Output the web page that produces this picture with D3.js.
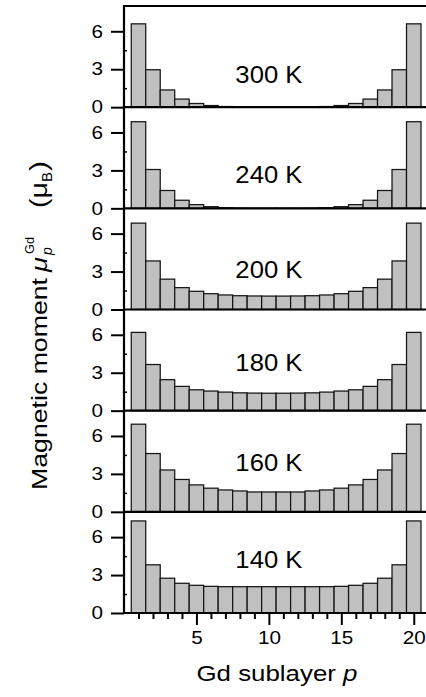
<!DOCTYPE html>
<html>
<head>
<meta charset="utf-8">
<script src="https://cdn.jsdelivr.net/npm/d3@7"></script>
<style>
  body { margin: 0; background: #fff; }
  svg { display: block; font-family: "Liberation Sans", Arial, sans-serif; }
  .tick text { font-size: 18px; font-family: "Liberation Sans", Arial, sans-serif; }
</style>
</head>
<body>
<div id="app"></div>
<script>
// sublayer index p
const sublayers = [1, 2, 3, 4, 5, 6, 7, 8, 9, 10, 11, 12, 13, 14, 15, 16, 17, 18, 19, 20]
const temps = ['300 K', '240 K', '200 K', '180 K', '160 K', '140 K']

// moment per sublayer (muB)
const m300 = [6.59, 2.96, 1.36, 0.64, 0.29, 0.13, 0.05, 0.02, 0.01, 0.01, 0.01, 0.01, 0.02, 0.05, 0.13, 0.29, 0.64, 1.36, 2.96, 6.59]
const m240 = [6.85, 3.07, 1.41, 0.64, 0.29, 0.13, 0.05, 0.02, 0.01, 0.01, 0.01, 0.01, 0.02, 0.05, 0.13, 0.29, 0.64, 1.41, 3.07, 6.85]
const m200 = [6.83, 3.84, 2.40, 1.73, 1.44, 1.25, 1.15, 1.09, 1.07, 1.06, 1.06, 1.07, 1.09, 1.15, 1.25, 1.44, 1.73, 2.40, 3.84, 6.83]
const m180 = [6.19, 3.65, 2.45, 1.92, 1.65, 1.55, 1.47, 1.41, 1.39, 1.38, 1.38, 1.39, 1.41, 1.47, 1.55, 1.65, 1.92, 2.45, 3.65, 6.19]
const m160 = [6.93, 4.61, 3.31, 2.56, 2.13, 1.87, 1.73, 1.65, 1.57, 1.57, 1.57, 1.57, 1.65, 1.73, 1.87, 2.13, 2.56, 3.31, 4.61, 6.93]
const m140 = [7.28, 3.81, 2.75, 2.35, 2.19, 2.11, 2.08, 2.08, 2.08, 2.08, 2.08, 2.08, 2.08, 2.08, 2.11, 2.19, 2.35, 2.75, 3.81, 7.28]
const series = [m300, m240, m200, m180, m160, m140]

const yTicks = [0, 3, 6]
const yMinor = [1.5, 4.5]
const xTicks = [5, 10, 15, 20]

const width = 426, height = 697
const plotLeft = 124, plotRight = 421, plotTop = 6, plotBottom = 613
const panelH = (plotBottom - plotTop) / temps.length
// label baseline offset above zero line, in px
const labelLift = [24, 25, 32, 40, 41, 45]

const svg = d3.select('#app').append('svg')
    .attr('width', width)
    .attr('height', height)

const x = d3.scaleLinear().domain([0, 20.5]).range([plotLeft, plotRight])

// the source type is a bit wider than Arial, so stretch tick labels a little
function styleTickText(sel) {
    sel.attr('font-size', 18).attr('font-family', null)
    sel.selectAll('.tick text')
        .attr('font-size', 18)
        .attr('fill', '#000')
        .attr('textLength', d => String(d).length * 11.5)
        .attr('lengthAdjust', 'spacingAndGlyphs')
}

temps.forEach((t, i) => {
    const y0 = plotTop + panelH * i
    const y = d3.scaleLinear().domain([0, 8]).range([y0 + panelH, y0])
    const g = svg.append('g')

    g.selectAll('rect')
        .data(series[i])
        .enter().append('rect')
        .attr('x', (d, k) => x(sublayers[k] - 0.5))
        .attr('width', x(1) - x(0))
        .attr('y', d => y(d))
        .attr('height', d => y(0) - y(d))
        .attr('fill', '#c0c0c0')
        .attr('stroke', '#151515')
        .attr('stroke-width', 1.25)

    const ax = g.append('g').attr('transform', `translate(${plotLeft},0)`)
    ax.call(d3.axisLeft(y).tickValues(yTicks).tickSize(13).tickPadding(8).tickFormat(d3.format('d')))
    ax.select('.domain').remove()
    ax.selectAll('line').attr('stroke', '#000').attr('stroke-width', 2)
    styleTickText(ax)

    const mn = g.append('g').attr('transform', `translate(${plotLeft},0)`)
    mn.call(d3.axisRight(y).tickValues(yMinor).tickSize(3).tickFormat(''))
    mn.select('.domain').remove()
    mn.selectAll('line').attr('stroke', '#000').attr('stroke-width', 1.5)

    g.append('text')
        .attr('x', x(10))
        .attr('y', y(0) - labelLift[i])
        .attr('text-anchor', 'middle')
        .style('font-size', '24px')
        .attr('textLength', 67)
        .attr('lengthAdjust', 'spacingAndGlyphs')
        .text(t)
})

// frame lines
const hLines = d3.range(temps.length + 1).map(i => plotTop + panelH * i)
svg.selectAll('line.frame')
    .data(hLines)
    .enter().append('line')
    .attr('class', 'frame')
    .attr('x1', plotLeft).attr('x2', width + 5)
    .attr('y1', d => d).attr('y2', d => d)
    .attr('stroke', '#000').attr('stroke-width', 2.2)
svg.append('line')
    .attr('x1', plotLeft).attr('x2', plotLeft)
    .attr('y1', plotTop - 1).attr('y2', plotBottom + 1)
    .attr('stroke', '#000').attr('stroke-width', 2.2)

// bottom axis
const bx = svg.append('g').attr('transform', `translate(0,${plotBottom})`)
bx.call(d3.axisBottom(x).tickValues(xTicks).tickSize(12).tickPadding(6))
bx.select('.domain').remove()
bx.selectAll('line').attr('stroke', '#000').attr('stroke-width', 2)
styleTickText(bx)

const bm = svg.append('g').attr('transform', `translate(0,${plotBottom})`)
bm.call(d3.axisBottom(x).tickValues(sublayers.filter(d => !xTicks.includes(d))).tickSize(6).tickFormat(''))
bm.select('.domain').remove()
bm.selectAll('line').attr('stroke', '#000').attr('stroke-width', 2)

// x title
const xt = svg.append('text')
    .attr('x', 277).attr('y', 681)
    .attr('text-anchor', 'middle')
    .style('font-size', '22px')
    .attr('textLength', 161)
    .attr('lengthAdjust', 'spacingAndGlyphs')
xt.append('tspan').text('Gd sublayer ')
xt.append('tspan').attr('font-style', 'italic').text('p')

// y title, pieces placed along the rotated baseline
const yt = svg.append('g').attr('transform', 'translate(47,490) rotate(-90)')
function piece(str, px, opts) {
    const el = yt.append('text')
        .attr('x', px)
        .attr('y', opts.dy || 0)
        .style('font-size', (opts.size || 22) + 'px')
        .attr('font-style', opts.italic ? 'italic' : null)
        .text(str)
    if (opts.len) el.attr('textLength', opts.len).attr('lengthAdjust', 'spacingAndGlyphs')
}
piece('Magnetic moment', 0, {len: 212})
piece('\u03bc', 218, {italic: true, len: 15})
piece('Gd', 236, {size: 13, dy: -13, len: 17})
piece('p', 235, {size: 14, italic: true, dy: 5})
piece('(\u03bc', 282, {size: 23, len: 26})
piece('B', 308, {size: 14, dy: 5, len: 10})
piece(')', 319, {size: 23, len: 10})
</script>
</body>
</html>
